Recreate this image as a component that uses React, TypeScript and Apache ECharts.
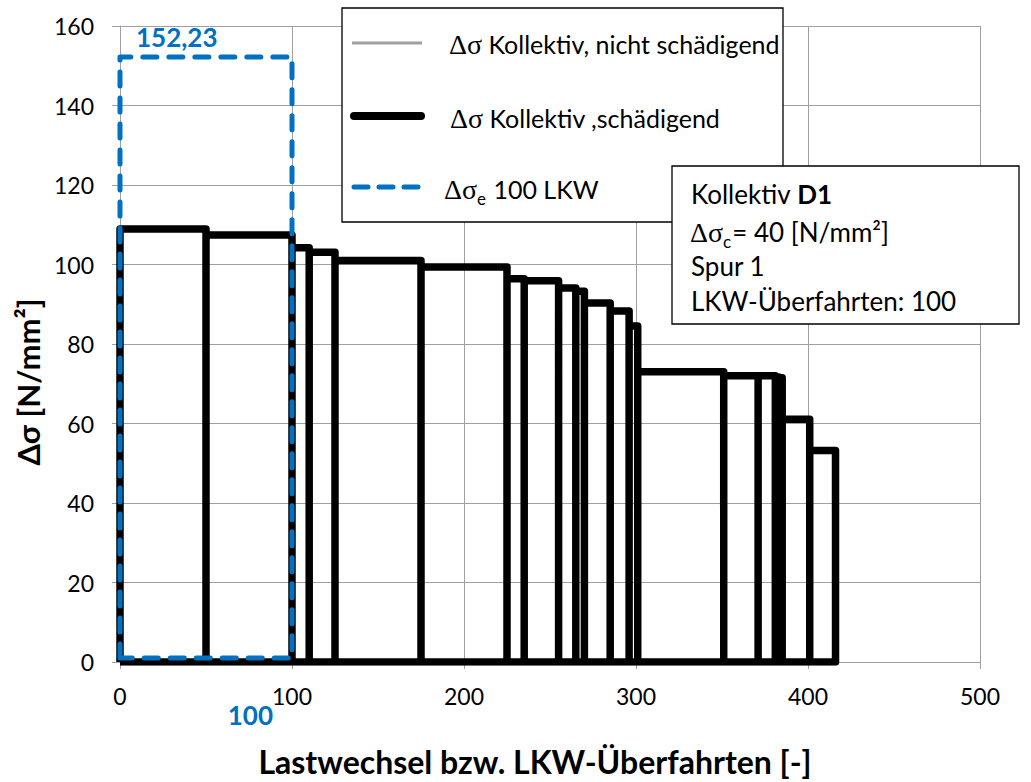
import React, { useEffect, useRef } from "react";
import * as echarts from "echarts";

// Kollektiv D1, Spur 1 — step ends (LKW-Überfahrten) and stress ranges Δσ [N/mm²]
const stepEnds = [50, 100, 110, 125, 175, 225, 235, 255, 265, 270, 285, 296, 301, 351, 371, 381, 383, 385, 401, 416];
const stepValues = [108.9, 107.4, 104.2, 103.1, 101.0, 99.4, 96.4, 95.9, 94.1, 93.3, 90.3, 88.3, 84.5, 73.0, 72.0, 72.0, 71.7, 71.5, 61.1, 53.2];

// Equivalent stress range Δσe for 100 LKW
const eqCount = 100;
const eqValue = 152.23;
const eqBase = 1;

const xMin = 0, xMax = 500, xStep = 100;
const yMin = 0, yMax = 160, yStep = 20;

const seriesNames = ["Δσ Kollektiv, nicht schädigend", "Δσ Kollektiv ,schädigend", "Δσe 100 LKW"];
const infoLines = ["Kollektiv D1", "Δσc = 40 [N/mm²]", "Spur 1", "LKW-Überfahrten: 100"];

const BLUE = "#0070C0";
const GRID = "#a0a0a0";
const SANS = "Lato, 'Open Sans', sans-serif";
const SERIF = "'Liberation Serif', 'DejaVu Serif', serif";

function buildSteps(): number[][] {
  const pts: number[][] = [[0, 0]];
  let prev = 0;
  for (let i = 0; i < stepEnds.length; i++) {
    pts.push([prev, stepValues[i]], [stepEnds[i], stepValues[i]], [stepEnds[i], 0]);
    prev = stepEnds[i];
  }
  pts.push([0, 0]);
  return pts;
}

function buildEq(): number[][] {
  return [
    [0, eqBase],
    [0, eqValue],
    [eqCount, eqValue],
    [eqCount, eqBase],
    [0, eqBase],
  ];
}

const richParts = (size: number) => ({
  g: { fontFamily: SERIF, fontSize: 28, fill: "#000", verticalAlign: "middle" },
  t: { fontFamily: SANS, fontSize: size, fill: "#000", verticalAlign: "middle" },
  b: { fontFamily: SANS, fontSize: size, fontWeight: "bold", fill: "#000", verticalAlign: "middle" },
  sub: { fontFamily: SANS, fontSize: 17, fill: "#000", verticalAlign: "middle", padding: [18, 1, 0, 0] },
});

export default function App() {
  const ref = useRef<HTMLDivElement>(null);
  useEffect(() => {
    document.body.style.margin = "0";
    if (!ref.current) return;
    const chart = echarts.init(ref.current, undefined, { renderer: "svg" });
    chart.setOption({
      animation: false,
      backgroundColor: "#fff",
      grid: { left: 120, right: 51, top: 26, bottom: 116, containLabel: false },
      xAxis: {
        type: "value",
        min: xMin,
        max: xMax,
        interval: xStep,
        name: "Lastwechsel bzw. LKW-Überfahrten [-]",
        nameLocation: "middle",
        nameGap: 83,
        nameTextStyle: { fontFamily: SANS, fontWeight: "bold", fontSize: 32, color: "#000", padding: [0, 30, 0, 0] },
        axisLine: { show: true, lineStyle: { color: GRID, width: 1 } },
        axisTick: { show: true, length: 7, lineStyle: { color: GRID } },
        axisLabel: { margin: 22, fontFamily: SANS, fontSize: 23, color: "#000" },
        splitLine: { show: true, lineStyle: { color: GRID, width: 1 } },
      },
      yAxis: {
        type: "value",
        min: yMin,
        max: yMax,
        interval: yStep,
        name: "Δσ [N/mm²]",
        nameLocation: "middle",
        nameRotate: 90,
        nameGap: 77,
        nameTextStyle: { fontFamily: SANS, fontWeight: "bold", fontSize: 31, color: "#000", padding: [0, 76, 0, 0] },
        axisLine: { show: true, lineStyle: { color: GRID, width: 1 } },
        axisTick: { show: true, length: 8, lineStyle: { color: GRID } },
        axisLabel: { margin: 26, fontFamily: SANS, fontSize: 23, color: "#000" },
        splitLine: { show: true, lineStyle: { color: GRID, width: 1 } },
      },
      legend: { show: false },
      series: [
        {
          name: seriesNames[0],
          type: "line",
          data: [],
          symbol: "none",
          lineStyle: { color: "#a0a0a0", width: 3 },
        },
        {
          name: seriesNames[1],
          type: "line",
          data: buildSteps(),
          symbol: "none",
          z: 3,
          lineStyle: { color: "#000", width: 7.5, join: "round", cap: "butt" },
        },
        {
          name: seriesNames[2],
          type: "line",
          data: buildEq(),
          symbol: "none",
          z: 4,
          lineStyle: { color: BLUE, width: 5, type: [14, 12], cap: "round", join: "round" },
        },
      ],
    });

    const pTop = chart.convertToPixel({ gridIndex: 0 }, [0, eqValue]) as number[];
    const pCnt = chart.convertToPixel({ gridIndex: 0 }, [eqCount, 0]) as number[];

    const lx = 342, ly = 8;
    const ix = 672, iy = 166;
    const R = (x: number, y: number, text: string, size: number) => ({
      type: "text",
      x,
      y,
      z: 31,
      style: { text, font: `${size}px ${SANS}`, fill: "#000", textVerticalAlign: "middle", rich: richParts(size) },
    });
    chart.setOption({
      graphic: [
        // data labels
        {
          type: "text",
          x: pTop[0] + 16,
          y: pTop[1] - 20,
          style: { text: "152,23", fill: BLUE, font: `bold 26px ${SANS}`, textAlign: "left", textVerticalAlign: "middle" },
          z: 20,
        },
        {
          type: "text",
          x: pCnt[0] - 19,
          y: pCnt[1] + 53,
          style: { text: String(eqCount), fill: BLUE, font: `bold 26px ${SANS}`, textAlign: "right", textVerticalAlign: "middle" },
          z: 20,
        },
        // legend box
        { type: "rect", shape: { x: lx, y: ly, width: 441, height: 214 }, style: { fill: "#fff", stroke: "#000", lineWidth: 1.3 }, z: 30 },
        { type: "line", shape: { x1: 352, y1: 43, x2: 422, y2: 43 }, style: { stroke: "#a0a0a0", lineWidth: 3 }, z: 31 },
        R(449, 44, "{g|Δσ}{t| Kollektiv, nicht schädigend}", 25),
        { type: "line", shape: { x1: 354, y1: 116, x2: 421, y2: 116 }, style: { stroke: "#000", lineWidth: 8, lineCap: "round" }, z: 31 },
        R(450, 118, "{g|Δσ}{t| Kollektiv ,schädigend}", 25),
        { type: "line", shape: { x1: 354, y1: 187, x2: 421, y2: 187 }, style: { stroke: BLUE, lineWidth: 5, lineCap: "round", lineDash: [14, 11] }, z: 31 },
        R(444, 189, "{g|Δσ}{sub|e}{t| 100 LKW}", 25),
        // info box
        { type: "rect", shape: { x: ix, y: iy, width: 347, height: 158 }, style: { fill: "#fff", stroke: "#000", lineWidth: 1.3 }, z: 30 },
        R(691, 194, "{t|Kollektiv }{b|D1}", 26),
        R(690, 232, "{g|Δσ}{sub|c}{t|= 40 [N/mm²]}", 26),
        R(691, 266, `{t|${infoLines[2]}}`, 26),
        R(691, 301, `{t|${infoLines[3]}}`, 26),
      ],
    });

    return () => chart.dispose();
  }, []);
  return <div ref={ref} style={{ width: 1031, height: 782 }} />;
}
